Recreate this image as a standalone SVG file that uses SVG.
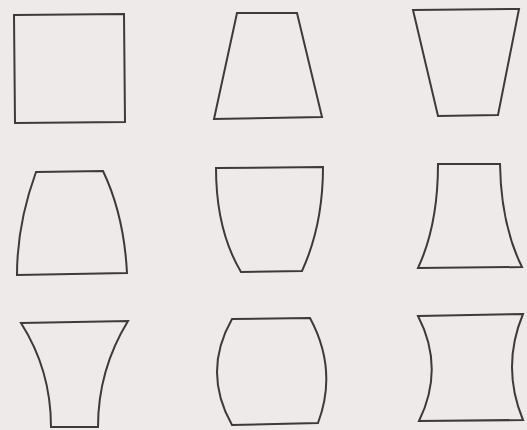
<svg xmlns="http://www.w3.org/2000/svg" width="527" height="430" viewBox="0 0 527 430">
<style>
.s{fill:none;stroke:#3c3a3b;stroke-width:2;stroke-linejoin:miter}
</style>
<rect width="527" height="430" fill="#efeaea"/>
<g id="shape1"><path class="s" d="M14,15 L124,14 L125,122 L15,123 Z"/></g>
<g id="shape2"><path class="s" d="M237,13 L297,13 L322,117 L214,119 Z"/></g>
<g id="shape3"><path class="s" d="M413,10 L519,9 L498,115 L438,116 Z"/></g>
<g id="shape4"><path class="s" d="M36,172 L103,171 Q124,215 127,273 L17,275 Q17,224 36,172 Z"/></g>
<g id="shape5"><path class="s" d="M216,168 L323,167 Q323,225 302,271 L241,272 Q216,230 216,168 Z"/></g>
<g id="shape6"><path class="s" d="M438,164 L500,164 Q501,225 522,267 L418,268 Q438,225 438,164 Z"/></g>
<g id="shape7"><path class="s" d="M21,323 L128,321 Q98,370 98,427 L51,427 Q51,370 21,323 Z"/></g>
<g id="shape8"><path class="s" d="M232,319 L310,318 Q338,370 318,423 L232,425 Q202,372 232,319 Z"/></g>
<g id="shape9"><path class="s" d="M418,316 L523,314 Q501,367 523,420 L419,421 Q445,368 418,316 Z"/></g>
</svg>
